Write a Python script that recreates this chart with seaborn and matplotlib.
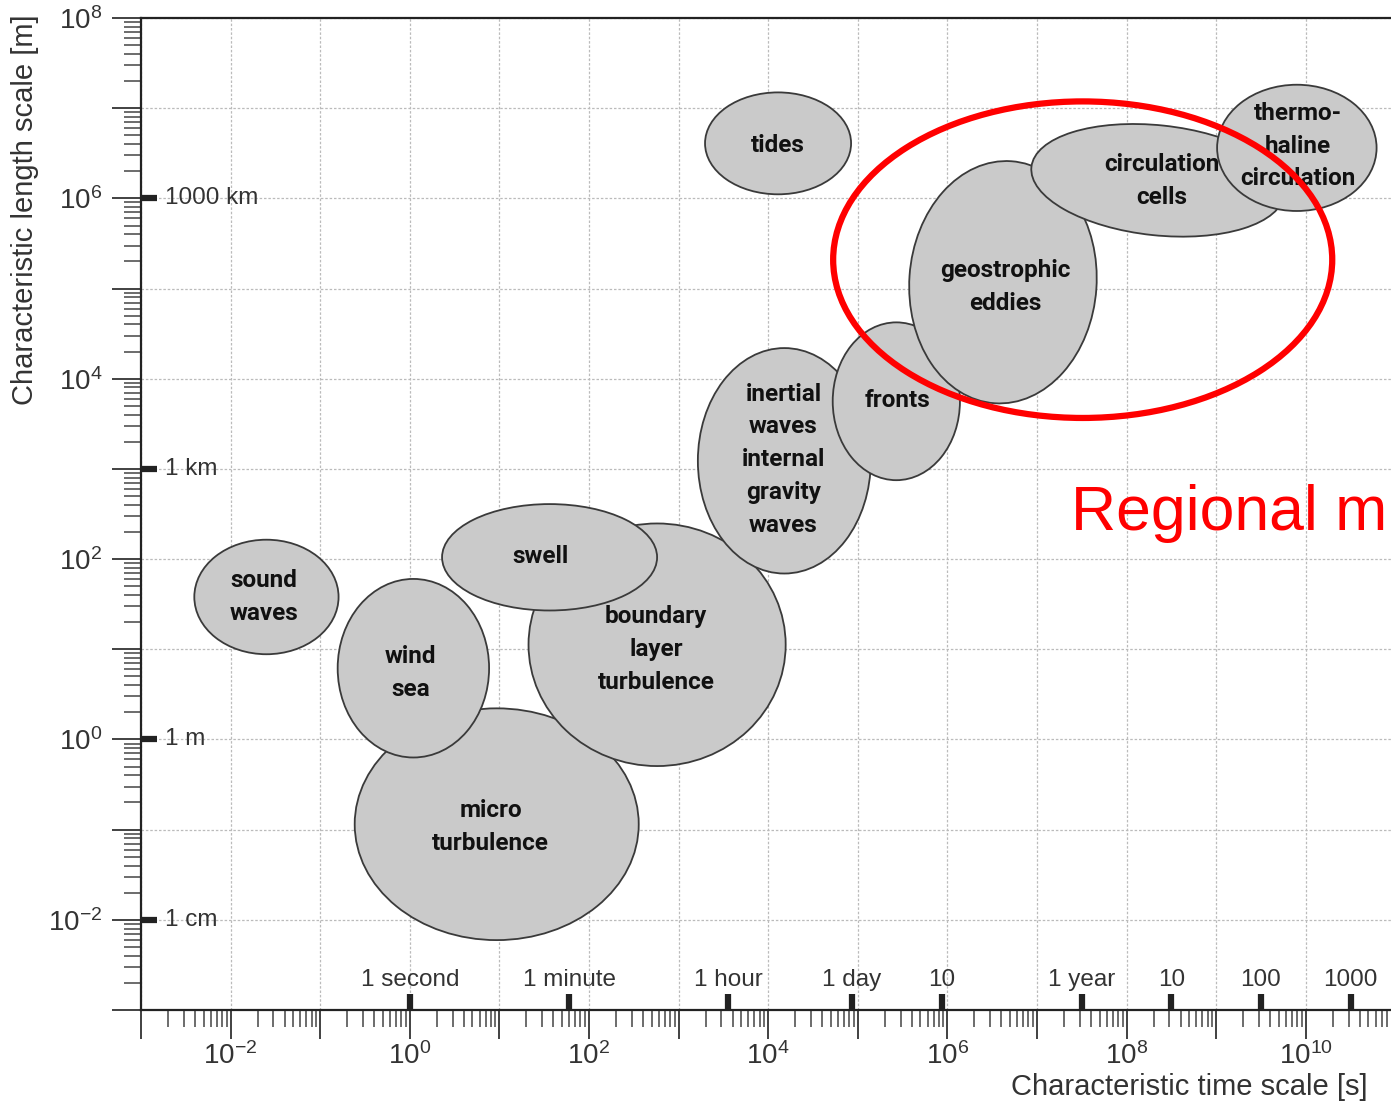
import numpy as np
import pandas as pd
import seaborn as sns
import matplotlib.pyplot as plt
from matplotlib.patches import Ellipse
from matplotlib.ticker import FixedLocator, FixedFormatter

# ocean phenomena, log10 of time scale [s] and length scale [m]
# (listed in drawing order, later ones lie on top)
names = ['micro\nturbulence', 'boundary\nlayer\nturbulence', 'swell', 'wind\nsea',
         'sound\nwaves', 'tides', 'inertial\nwaves\ninternal\ngravity\nwaves', 'fronts',
         'geostrophic\neddies', 'circulation\ncells', 'thermo-\nhaline\ncirculation']
time_center = [0.97, 2.76, 1.56, 0.04, -1.60, 4.11, 4.18, 5.43, 6.62, 8.35, 9.90]
length_center = [-0.94, 1.05, 2.02, 0.79, 1.58, 6.61, 3.09, 3.75, 5.07, 6.20, 6.56]
time_span = [3.17, 2.87, 2.40, 1.69, 1.61, 1.63, 1.93, 1.42, 2.09, 2.84, 1.78]
length_span = [2.57, 2.69, 1.18, 1.98, 1.27, 1.13, 2.50, 1.75, 2.69, 1.22, 1.40]
tilt = [0, 0, 0, 0, 0, 0, 0, 0, -4, -6, 0]
label_time = [0.90, 2.75, 1.46, 0.01, -1.63, 4.11, 4.17, 5.44, 6.65, 8.39, 9.91]
label_length = [-0.97, 1.00, 2.03, 0.74, 1.58, 6.59, 3.10, 3.76, 5.02, 6.19, 6.58]

# regional model range (red outline)
region_center = (7.51, 5.32)
region_span = (5.57, 3.51)

# reference marks inside the axes
length_refs = ['1000 km', '1 km', '1 m', '1 cm']
length_ref_vals = [1e6, 1e3, 1.0, 1e-2]
time_refs = ['1 second', '1 minute', '1 hour', '1 day', '10', '1 year', '10', '100', '1000']
time_ref_vals = [1.0, 60.0, 3600.0, 86400.0, 864000.0, 3.156e7, 3.156e8, 3.156e9, 3.156e10]

xdec = list(range(-3, 11))
ydec = list(range(-3, 9))

df = pd.DataFrame({'name': names, 'tc': time_center, 'lc': length_center,
                   'tw': time_span, 'lh': length_span, 'tilt': tilt,
                   'lx': label_time, 'ly': label_length})

sns.set_style('ticks')
plt.rcParams['font.family'] = ['Liberation Sans', 'DejaVu Sans']
plt.rcParams['mathtext.fontset'] = 'custom'
plt.rcParams['mathtext.rm'] = 'Liberation Sans'
plt.rcParams['mathtext.it'] = 'Liberation Sans:italic'
plt.rcParams['mathtext.bf'] = 'Liberation Sans:bold'

W, H = 1391, 1101
fig = plt.figure(figsize=(W / 100, H / 100), dpi=100)
ax = fig.add_axes([141 / W, (H - 1010) / H, (W - 141) / W, (1010 - 18) / H])
ax.set_xlim(-3, -3 + 1250 / 89.6)
ax.set_ylim(-3, 8)

ink = '#222222'
grey_txt = '#333333'
for s in ['left', 'bottom', 'top']:
    ax.spines[s].set_linewidth(1.6)
    ax.spines[s].set_color(ink)
ax.spines['right'].set_visible(False)

# log-style ticks on the log10 values
minor = lambda lo, hi: [d + np.log10(k) for d in range(lo, hi) for k in range(2, 10)]
ax.xaxis.set_major_locator(FixedLocator(xdec))
ax.xaxis.set_major_formatter(FixedFormatter(
    [r'$\mathregular{10^{%d}}$' % d if d % 2 == 0 else '' for d in xdec]))
ax.xaxis.set_minor_locator(FixedLocator(minor(-3, 11)))
ax.yaxis.set_major_locator(FixedLocator(ydec))
ax.yaxis.set_major_formatter(FixedFormatter(
    [r'$\mathregular{10^{%d}}$' % d if d % 2 == 0 else '' for d in ydec]))
ax.yaxis.set_minor_locator(FixedLocator(minor(-3, 8)))
ax.tick_params(which='major', length=21, width=1.3, color='#333333', labelsize=20,
               labelcolor=grey_txt, direction='out')
ax.tick_params(which='minor', length=12, width=1.1, color='#444444', direction='out')
ax.tick_params(axis='x', which='major', pad=2)
ax.tick_params(axis='y', which='major', pad=7)
ax.grid(True, which='major', color='#bbbbbb', lw=0.9, ls=(0, (2, 1.5)))
ax.set_axisbelow(True)

# phenomena ellipses
for i, r in df.iterrows():
    ax.add_patch(Ellipse((r.tc, r.lc), r.tw, r.lh, angle=r.tilt, facecolor='#cacaca',
                         edgecolor='#3a3a3a', lw=1.3, zorder=2 + i * 0.01))
for i, r in df.iterrows():
    ax.text(r.lx, r.ly, r['name'], ha='center', va='center', fontsize=17.5,
            fontweight='bold', color='#111111', linespacing=1.55, zorder=3,
            family=['Roboto', 'Liberation Sans', 'DejaVu Sans'])

ax.add_patch(Ellipse(region_center, *region_span, fill=False, edgecolor='#ff0000',
                     lw=4.5, zorder=4))

# bold reference marks with their labels
ly_ref = np.log10(length_ref_vals)
ax.hlines(ly_ref, 0, 0.013, transform=ax.get_yaxis_transform(), lw=4.5, color=ink,
          zorder=3)
for lab, v in zip(length_refs, ly_ref):
    ax.annotate(lab, xy=(0, v), xycoords=('axes fraction', 'data'), xytext=(17, 0),
                textcoords='offset points', ha='left', va='center', fontsize=17.5,
                color=grey_txt)
lx_ref = np.log10(time_ref_vals)
ax.vlines(lx_ref, 0, 0.016, transform=ax.get_xaxis_transform(), lw=4.5, color=ink,
          zorder=3)
for lab, v in zip(time_refs, lx_ref):
    ax.annotate(lab, xy=(v, 0), xycoords=('data', 'axes fraction'), xytext=(0, 17),
                textcoords='offset points', ha='center', va='baseline', fontsize=17.5,
                color=grey_txt)

fig.text(25 / W, 1 - 210 / H, 'Characteristic length scale [m]', rotation=90,
         ha='center', va='center', fontsize=21, color=grey_txt)
fig.text(1189 / W, 1 - 1087 / H, 'Characteristic time scale [s]', ha='center',
         va='center', fontsize=21, color=grey_txt)
fig.text(1071 / W, 1 - 530 / H, 'Regional m', ha='left', va='baseline', fontsize=45,
         color='#ff0000')

fig.savefig('out.png', dpi=100)
